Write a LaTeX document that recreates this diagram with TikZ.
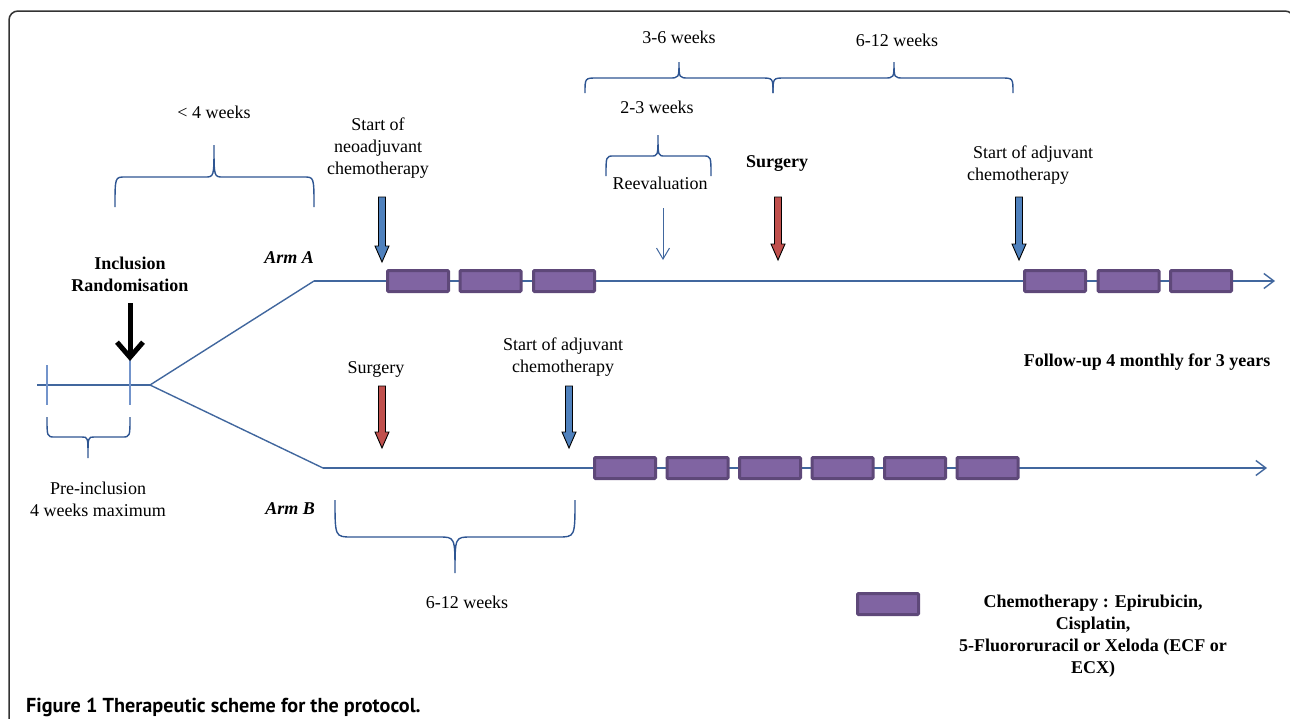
\documentclass[tikz,border=0pt]{standalone}
\usepackage{fontspec}
\setmainfont{Liberation Serif}
\newfontfamily\capfont{PT Sans}
\usetikzlibrary{arrows.meta}
\definecolor{lineblue}{HTML}{41679E}
\definecolor{braceblue}{HTML}{2E5592}
\definecolor{tickblue}{HTML}{7394CB}
\definecolor{chemofill}{HTML}{8064A2}
\definecolor{chemodraw}{HTML}{5E4879}
\definecolor{arrblue}{HTML}{4F81BD}
\definecolor{arrred}{HTML}{C0504D}
\definecolor{framecol}{HTML}{333333}
\tikzset{
  txt/.style={font=\fontsize{18}{22}\selectfont, inner sep=0pt, align=center},
  bold/.style={txt, font=\fontsize{18}{22}\selectfont\bfseries},
  timeline/.style={draw=lineblue, line width=1.4pt},
  bracestyle/.style={draw=braceblue, line width=1.4pt},
  chemo/.style={draw=chemodraw, fill=chemofill, line width=3pt, minimum width=61pt, minimum height=21pt, inner sep=0pt, rounded corners=1pt},
  blockarr/.style={draw=black, line width=0.9pt, line join=miter},
  openhead/.style={-{Straight Barb[length=10pt,width=15pt]}},
}
\newcommand\wbrace[8]{%
  \draw[bracestyle] (#1,#4) .. controls (#1,#5) .. ({#1+#7},#5) -- ({#3-#8},#5) .. controls (#3,#5) .. (#3,#6) .. controls (#3,#5) .. ({#3+#8},#5) -- ({#2-#7},#5) .. controls (#2,#5) .. (#2,#4);}
\newcommand\blkarrow[4]{%
  \draw[blockarr, fill=#1] ({#2-3.5},#3) -- ({#2+3.5},#3) -- ({#2+3.5},{#4-16}) -- ({#2+7},{#4-16}) -- (#2,#4) -- ({#2-7},{#4-16}) -- ({#2-3.5},{#4-16}) -- cycle;}
\begin{document}
\begin{tikzpicture}[x=1pt,y=-1pt]
\useasboundingbox (0,0) rectangle (1290,718);
% frame
\draw[framecol, line width=1.5pt, rounded corners=9pt] (9,730) -- (9,11) -- (1294,11) -- (1294,60);

% coordinates
\coordinate (startL) at (37,385);
\coordinate (fork) at (150,385);
\coordinate (armA) at (314,281);
\coordinate (armAend) at (1275,281);
\coordinate (armB) at (323,468);
\coordinate (armBend) at (1267,468);

% timelines
\draw[timeline] (startL) -- (fork);
\draw[timeline] (fork) -- (armA);
\draw[timeline] (fork) -- (armB);
\draw[timeline, openhead] (armA) -- (armAend);
\draw[timeline, openhead] (armB) -- (armBend);

% ticks
\draw[tickblue, line width=1.2pt] (47,365) -- (47,405);
\draw[tickblue, line width=1.2pt] (130,360) -- (130,405);

% inclusion arrow
\coordinate (inclTop) at (130,303);
\coordinate (inclTip) at (130,361);
\draw[black, line width=5pt, -{Straight Barb[length=15pt,width=26pt]}] (inclTop) -- (inclTip);
\node[bold] (incl) at (130,274) {Inclusion\\Randomisation};

% arm labels
\node[txt, font=\fontsize{18}{22}\selectfont\bfseries\itshape, anchor=east] (armAlbl) at (314,258) {Arm A};
\node[txt, font=\fontsize{18}{22}\selectfont\bfseries\itshape, anchor=east] (armBlbl) at (315,509) {Arm B};

% chemo boxes arm A
\node[chemo] (a1) at (418,281) {};
\node[chemo] (a2) at (490.5,281) {};
\node[chemo] (a3) at (564,281) {};
\node[chemo] (a4) at (1055,281) {};
\node[chemo] (a5) at (1128.5,281) {};
\node[chemo] (a6) at (1201,281) {};
% chemo boxes arm B
\node[chemo] (b1) at (625,468) {};
\node[chemo] (b2) at (697.5,468) {};
\node[chemo] (b3) at (770,468) {};
\node[chemo] (b4) at (842.5,468) {};
\node[chemo] (b5) at (915,468) {};
\node[chemo] (b6) at (987.5,468) {};

% braces
\wbrace{115}{314}{214}{207}{177}{145}{10}{9}
\wbrace{47}{130}{88}{417}{437}{458}{8}{6}
\wbrace{606}{711}{658}{176}{156}{135}{8}{7}
\wbrace{585}{773}{679}{93}{78}{62}{12}{10}
\wbrace{773}{1013}{894}{93}{78}{62}{12}{10}
\wbrace{335}{575}{455}{500}{537}{573}{17}{16}

% brace labels
\node[txt] (lt4) at (214,112) {< 4 weeks};
\node[txt] (preincl) at (98,499) {Pre-inclusion\\4 weeks maximum};
\node[txt] (w23) at (657,107) {2-3 weeks};
\node[txt] (w36) at (679,37) {3-6 weeks};
\node[txt] (w612) at (897,40) {6-12 weeks};
\node[txt] (w612b) at (467,602) {6-12 weeks};

% arm A events
\node[txt] (neo) at (378,148) {Start of\\neoadjuvant\\chemotherapy};
\blkarrow{arrblue}{382}{197}{262}
\node[txt] (reev) at (660,183) {Reevaluation};
\coordinate (reevTop) at (663,208);
\coordinate (reevTip) at (663,260);
\draw[lineblue, line width=1pt, -{Straight Barb[length=11pt,width=13pt]}] (reevTop) -- (reevTip);
\node[bold] (surgA) at (777,164) {Surgery};
\blkarrow{arrred}{778}{197}{260}
\node[txt, align=left, anchor=west] (adjA) at (967,165) {\hspace{6pt}Start of adjuvant\\chemotherapy};
\blkarrow{arrblue}{1019}{197}{260}
\node[bold] (follow) at (1147,362) {Follow-up 4 monthly for 3 years};

% arm B events
\node[txt] (surgB) at (376,369) {Surgery};
\blkarrow{arrred}{382}{386}{448}
\node[txt] (adjB) at (563,357) {Start of adjuvant\\chemotherapy};
\blkarrow{arrblue}{569}{386}{448}

% legend
\node[chemo] (leg) at (888,604) {};
\node[bold] (legtxt) at (1093,636) {Chemotherapy : Epirubicin,\\Cisplatin,\\5-Fluororuracil or Xeloda (ECF or\\ECX)};

% caption
\node[inner sep=0pt, anchor=west, font=\capfont\bfseries\fontsize{20.2}{24}\selectfont] (cap) at (26,707) {Figure 1 Therapeutic scheme for the protocol.};
\end{tikzpicture}
\end{document}
